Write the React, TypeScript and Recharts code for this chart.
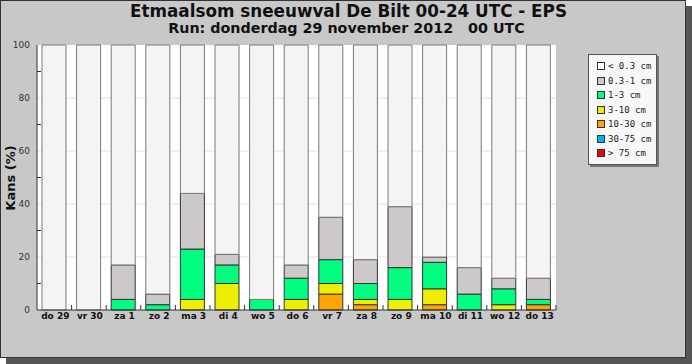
import React from 'react';
import { BarChart, Bar, XAxis, YAxis, CartesianGrid } from 'recharts';

// categories (days of the run)
const days = ['do 29', 'vr 30', 'za 1', 'zo 2', 'ma 3', 'di 4', 'wo 5', 'do 6', 'vr 7', 'za 8', 'zo 9', 'ma 10', 'di 11', 'wo 12', 'do 13'];

// kans (%) per klasse
const lt03 = [100, 100, 83, 94, 56, 79, 96, 83, 65, 81, 61, 80, 84, 88, 88];
const c03to1 = [0, 0, 13, 4, 21, 4, 0, 5, 16, 9, 23, 2, 10, 4, 8];
const c1to3 = [0, 0, 4, 2, 19, 7, 4, 8, 9, 6, 12, 10, 6, 6, 2];
const c3to10 = [0, 0, 0, 0, 4, 10, 0, 4, 4, 2, 4, 6, 0, 2, 0];
const c10to30 = [0, 0, 0, 0, 0, 0, 0, 0, 6, 2, 0, 2, 0, 0, 2];
const c30to75 = [0, 0, 0, 0, 0, 0, 0, 0, 0, 0, 0, 0, 0, 0, 0];
const gt75 = [0, 0, 0, 0, 0, 0, 0, 0, 0, 0, 0, 0, 0, 0, 0];

const yTicks = [0, 10, 20, 30, 40, 50, 60, 70, 80, 90, 100];
const gridValues = [20, 40, 60, 80];

// bottom of the stack first
const series = [
  { key: 'gt75', label: '> 75 cm', color: '#ee0000', values: gt75 },
  { key: 'c30to75', label: '30-75 cm', color: '#00b2ee', values: c30to75 },
  { key: 'c10to30', label: '10-30 cm', color: '#ffa500', values: c10to30 },
  { key: 'c3to10', label: '3-10 cm', color: '#eeee00', values: c3to10 },
  { key: 'c1to3', label: '1-3 cm', color: '#00ff80', values: c1to3 },
  { key: 'c03to1', label: '0.3-1 cm', color: '#cdc9c9', values: c03to1 },
  { key: 'lt03', label: '< 0.3 cm', color: '#f4f4f4', values: lt03 },
];

const data = days.map((day, i) => {
  const row: any = { day };
  series.forEach(s => { row[s.key] = s.values[i]; });
  return row;
});

const W = 692;
const H = 364;
const PLOT_LEFT = 37;
const PLOT_RIGHT = 556;
const PLOT_TOP = 45;
const PLOT_BOTTOM = 310;
const band = (PLOT_RIGHT - PLOT_LEFT) / days.length;

const XTick = (props: any) => {
  const { x, y, payload } = props;
  return (
    <g>
      <line x1={x + band / 2} x2={x + band / 2} y1={y - 2} y2={y - 7} stroke="#333" />
      <text x={x + 1} y={y + 7} textAnchor="middle" fontSize={9} fontWeight="bold" fill="#111" fontFamily="DejaVu Sans">
        {payload.value}
      </text>
    </g>
  );
};

const YTick = (props: any) => {
  const { x, y, payload } = props;
  if (payload.value % 20 !== 0) {
    // minor tick pointing into the plot
    return <line x1={x + 7} x2={x + 11} y1={y} y2={y} stroke="#333" />;
  }
  return (
    <text x={x} y={y + 3} textAnchor="end" fontSize={9} fill="#333" fontFamily="DejaVu Sans">
      {payload.value}
    </text>
  );
};

const legendItems = [...series].reverse();

export default function App() {
  return (
    <div style={{ position: 'absolute', left: 0, top: 0, width: W, height: H }}>
      <div
        style={{
          position: 'absolute', left: 0, top: 0, width: 686, height: 358, boxSizing: 'border-box',
          background: '#c8c8c8', border: '1px solid #333', boxShadow: '6px 6px 0 #555',
        }}
      />
      <div style={{ position: 'absolute', left: 0, width: 697, top: 1, textAlign: 'center', fontFamily: 'DejaVu Sans', fontWeight: 'bold', fontSize: 16.8, lineHeight: '20px', color: '#111' }}>
        Etmaalsom sneeuwval De Bilt 00-24 UTC - EPS
      </div>
      <div style={{ position: 'absolute', left: 0, width: 693, top: 19, textAlign: 'center', fontFamily: 'DejaVu Sans', fontWeight: 'bold', fontSize: 14.3, lineHeight: '18px', color: '#111', whiteSpace: 'pre' }}>
        {'Run: donderdag 29 november 2012   00 UTC'}
      </div>
      <div
        style={{
          position: 'absolute', left: 10, top: (PLOT_TOP + PLOT_BOTTOM) / 2, transform: 'translate(-50%, -50%) rotate(-90deg)',
          fontFamily: 'DejaVu Sans', fontWeight: 'bold', fontSize: 13, color: '#111', whiteSpace: 'nowrap',
        }}
      >
        Kans (%)
      </div>
      <div style={{ position: 'absolute', left: 0, top: 0 }}>
        <BarChart
          width={W}
          height={H}
          data={data}
          margin={{ top: PLOT_TOP, right: W - PLOT_RIGHT, bottom: H - PLOT_BOTTOM - 20, left: PLOT_LEFT - 30 }}
        >
          <CartesianGrid fill="#ffffff" vertical={false} horizontalValues={gridValues} stroke="#e2e2e2" />
          <XAxis dataKey="day" height={20} tickLine={false} tickSize={0} tickMargin={2} interval={0} axisLine={{ stroke: '#333' }} tick={<XTick />} />
          <YAxis width={30} domain={[0, 100]} ticks={yTicks} interval={0} tickLine={false} tickSize={0} tickMargin={7} axisLine={{ stroke: '#333' }} tick={<YTick />} />
          {series.map(s => (
            <Bar
              key={s.key}
              dataKey={s.key}
              stackId="a"
              fill={s.color}
              stroke={s.key === 'lt03' ? '#7a7a7a' : '#333'}
              strokeWidth={1}
              barSize={24}
              isAnimationActive={false}
            />
          ))}
        </BarChart>
      </div>
      <div
        style={{
          position: 'absolute', left: 588, top: 54, width: 69, height: 111, boxSizing: 'border-box',
          background: '#f8f8f8', border: '1px solid #555', boxShadow: '2px 2px 0 #777', paddingTop: 4, paddingLeft: 8,
        }}
      >
        {legendItems.map(s => (
          <div key={s.key} style={{ display: 'flex', alignItems: 'center', height: 14.5 }}>
            <span style={{ width: 8, height: 8, boxSizing: 'border-box', border: '1px solid #333', background: s.key === 'lt03' ? '#fff' : s.color, marginRight: 3 }} />
            <span style={{ fontFamily: 'DejaVu Sans Mono', fontSize: 9, color: '#222', whiteSpace: 'pre' }}>{s.label}</span>
          </div>
        ))}
      </div>
    </div>
  );
}
